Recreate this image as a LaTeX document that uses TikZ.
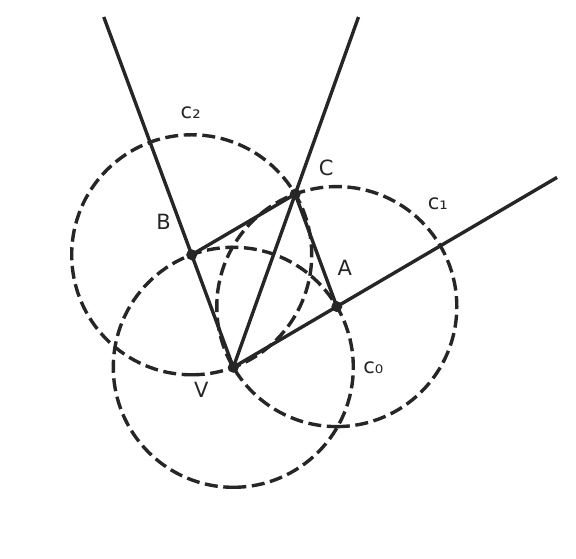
\documentclass[tikz,border=0pt]{standalone}
\usepackage{fontspec}
\setmainfont{DejaVu Sans}
\usetikzlibrary{calc}
\definecolor{ink}{HTML}{262626}
\begin{document}
\begin{tikzpicture}[x=1pt,y=1pt,
    ray/.style={draw=ink, line width=3.4pt},
    ring/.style={draw=ink, line width=3.4pt, dash pattern=on 13pt off 5.6pt},
    lbl/.style={text=ink, font=\fontsize{21}{25}\selectfont, inner sep=0pt}]
  \useasboundingbox (0,0) rectangle (576,559);

  % Vertex and the three points of the rhombus
  \coordinate (V) at (233.3,191.7);
  \coordinate (A) at (336.8,252.4);
  \coordinate (B) at (191.7,304.2);
  \coordinate (C) at (295.2,364.9);

  % Circles through V, centred at V, A and B (started from the bottom)
  \foreach \m in {V,A,B}
    \draw[ring] ($(\m)+(0,-120)$) arc (-90:270:120);

  % Rays from V and the two sides
  \draw[ray] (V) -- ($(V)!3.114!(B)$);
  \draw[ray] (V) -- ($(V)!2.0225!(C)$);
  \draw[ray] (V) -- ($(V)!3.128!(A)$);
  \draw[ray] (B) -- (C) -- (A);

  % Points
  \foreach \p in {V,A,B,C}
    \fill[ink] (\p) circle (5.5);

  % Labels
  \node[lbl] (lblV) at ($(V)+(-32,-23)$) {V};
  \node[lbl] (lblA) at ($(A)+(8,39)$) {A};
  \node[lbl] (lblB) at ($(B)+(-28,33)$) {B};
  \node[lbl] (lblC) at ($(C)+(31,26)$) {C};
  \node[lbl] (lblc0) at ($(V)+(140,0)$) {c₀};
  \node[lbl] (lblc1) at ($(A)+(101,103)$) {c₁};
  \node[lbl] (lblc2) at ($(B)+(-1,142)$) {c₂};
\end{tikzpicture}
\end{document}
